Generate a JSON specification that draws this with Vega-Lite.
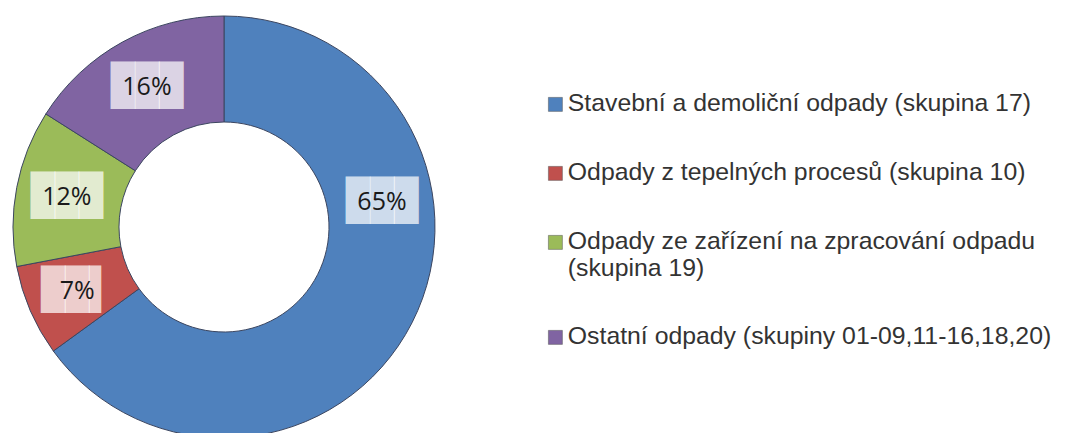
{
  "$schema": "https://vega.github.io/schema/vega-lite/v6.json",
  "width": 448,
  "height": 433,
  "padding": 0,
  "background": "white",
  "data": {
    "values": [
      {"kategorie": "Stavební a demoliční odpady (skupina 17)", "podil": 65, "poradi": 1, "popis": "65%"},
      {"kategorie": "Odpady z tepelných procesů (skupina 10)", "podil": 7, "poradi": 2, "popis": "7%"},
      {"kategorie": "Odpady ze zařízení na zpracování odpadu (skupina 19)", "podil": 12, "poradi": 3, "popis": "12%"},
      {"kategorie": "Ostatní odpady (skupiny 01-09,11-16,18,20)", "podil": 16, "poradi": 4, "popis": "16%"}
    ]
  },
  "encoding": {
    "theta": {"field": "podil", "type": "quantitative", "stack": true},
    "order": {"field": "poradi", "type": "quantitative"}
  },
  "layer": [
    {
      "mark": {"type": "arc", "innerRadius": 105, "outerRadius": 211, "stroke": "#3c4660", "strokeWidth": 1, "yOffset": 10.5},
      "encoding": {
        "color": {
          "field": "kategorie",
          "type": "nominal",
          "sort": ["Stavební a demoliční odpady (skupina 17)", "Odpady z tepelných procesů (skupina 10)", "Odpady ze zařízení na zpracování odpadu (skupina 19)", "Ostatní odpady (skupiny 01-09,11-16,18,20)"],
          "scale": {
            "domain": ["Stavební a demoliční odpady (skupina 17)", "Odpady z tepelných procesů (skupina 10)", "Odpady ze zařízení na zpracování odpadu (skupina 19)", "Ostatní odpady (skupiny 01-09,11-16,18,20)"],
            "range": ["#4f81bd", "#c0504d", "#9bbb59", "#8064a2"]
          },
          "legend": {
            "title": null,
            "orient": "none",
            "legendX": 543,
            "legendY": 92,
            "symbolType": "square",
            "symbolSize": 196,
            "symbolStrokeColor": "#555",
            "symbolStrokeWidth": 0.5,
            "labelFont": "Liberation Sans",
            "labelFontSize": 24.8,
            "labelColor": "#333333",
            "labelLimit": 600,
            "labelOffset": 0,
            "labelLineHeight": 26,
            "rowPadding": 43,
            "labelExpr": "datum.label == 'Odpady ze zařízení na zpracování odpadu (skupina 19)' ? ['Odpady ze zařízení na zpracování odpadu', '(skupina 19)'] : datum.label"
          }
        }
      }
    },
    {
      "mark": {"type": "text", "font": "DejaVu Sans Mono", "fontSize": 40, "radius": 160, "yOffset": 10.5, "fillOpacity": 0.72, "thetaOffset": {"expr": "datum.podil > 50 ? -0.63 : 0"}},
      "encoding": {
        "text": {"condition": {"test": "datum.podil < 10", "value": "██▌"}, "value": "███"},
        "color": {"value": "white"}
      }
    },
    {
      "mark": {"type": "text", "font": "Open Sans", "fontSize": 25, "radius": 160, "yOffset": 10.5, "thetaOffset": {"expr": "datum.podil > 50 ? -0.63 : 0"}},
      "encoding": {
        "text": {"field": "popis"},
        "color": {"value": "#1a1a1a"}
      }
    }
  ]
}
